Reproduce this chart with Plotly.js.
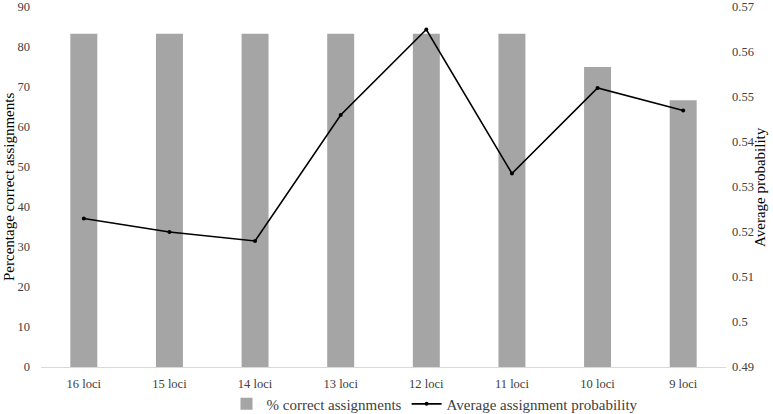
<!DOCTYPE html>
<html><head><meta charset="utf-8">
<script src="https://cdn.plot.ly/plotly-3.0.1.min.js"></script>
<style>html,body{margin:0;padding:0;background:#fff}#chart{width:773px;height:414px}</style>
</head><body><div id="chart"></div>
<script>
const categories = ["16 loci","15 loci","14 loci","13 loci","12 loci","11 loci","10 loci","9 loci"];
const pctCorrect = [83.33,83.33,83.33,83.33,83.33,83.33,75,66.67];
const avgProb = [0.523,0.520,0.518,0.546,0.565,0.533,0.552,0.547];
const leftTicks = [0,10,20,30,40,50,60,70,80,90];
const rightTicks = [0.49,0.5,0.51,0.52,0.53,0.54,0.55,0.56,0.57];
const rightTickText = ["0.49","0.5","0.51","0.52","0.53","0.54","0.55","0.56","0.57"];
const leftTitle = "Percentage correct assignments";
const rightTitle = "Average probability";

const ff = "Liberation Serif, Times New Roman, serif";
const tickFont = {family:ff, size:12.5, color:"#404040"};
const titleFont = {family:ff, size:15, color:"#000"};
const traces = [
  {type:"bar", x:categories, y:pctCorrect, name:"% correct assignments",
   marker:{color:"#a5a5a5"}, yaxis:"y"},
  {type:"scatter", mode:"lines+markers", x:categories, y:avgProb, name:"Average assignment probability",
   line:{color:"#000", width:1.6}, marker:{color:"#000", size:4}, yaxis:"y2"}
];
const layout = {
  width:773, height:414,
  margin:{l:41, r:47, t:7, b:47, autoexpand:false},
  paper_bgcolor:"#fff", plot_bgcolor:"#fff",
  font:{family:ff, size:12, color:"#404040"},
  bargap:0.685,
  showlegend:true,
  legend:{orientation:"h", x:0.293, xanchor:"left", xref:"container", yref:"paper", y:-0.103, yanchor:"middle",
          bgcolor:"rgba(0,0,0,0)",
          font:{family:ff, size:15, color:"#404040"}, itemwidth:30, tracegroupgap:0},
  xaxis:{type:"category", showline:true, linecolor:"#d9d9d9", linewidth:1, ticks:"", ticklabelstandoff:5,
         tickfont:tickFont, showgrid:false, zeroline:false},
  yaxis:{range:[0,90], tickvals:leftTicks, showgrid:false, zeroline:false, showline:false, ticks:"",
         tickfont:tickFont, ticklabeloverflow:"allow", ticklabelstandoff:10},
  yaxis2:{range:[0.49,0.57], overlaying:"y", side:"right", tickvals:rightTicks, ticktext:rightTickText,
          showgrid:false, zeroline:false, showline:false, ticks:"", ticklabeloverflow:"allow", ticklabelstandoff:5,
          tickfont:tickFont},
  annotations:[
    {text:leftTitle, xref:"paper", yref:"paper", x:-0.0467, y:0.5, xanchor:"center", yanchor:"middle",
     textangle:-90, showarrow:false, font:titleFont},
    {text:rightTitle, xref:"paper", yref:"paper", x:1.0496, y:0.5, xanchor:"center", yanchor:"middle",
     textangle:-90, showarrow:false, font:titleFont}
  ]
};
Plotly.newPlot("chart", traces, layout, {displayModeBar:false, staticPlot:true});
</script></body></html>
